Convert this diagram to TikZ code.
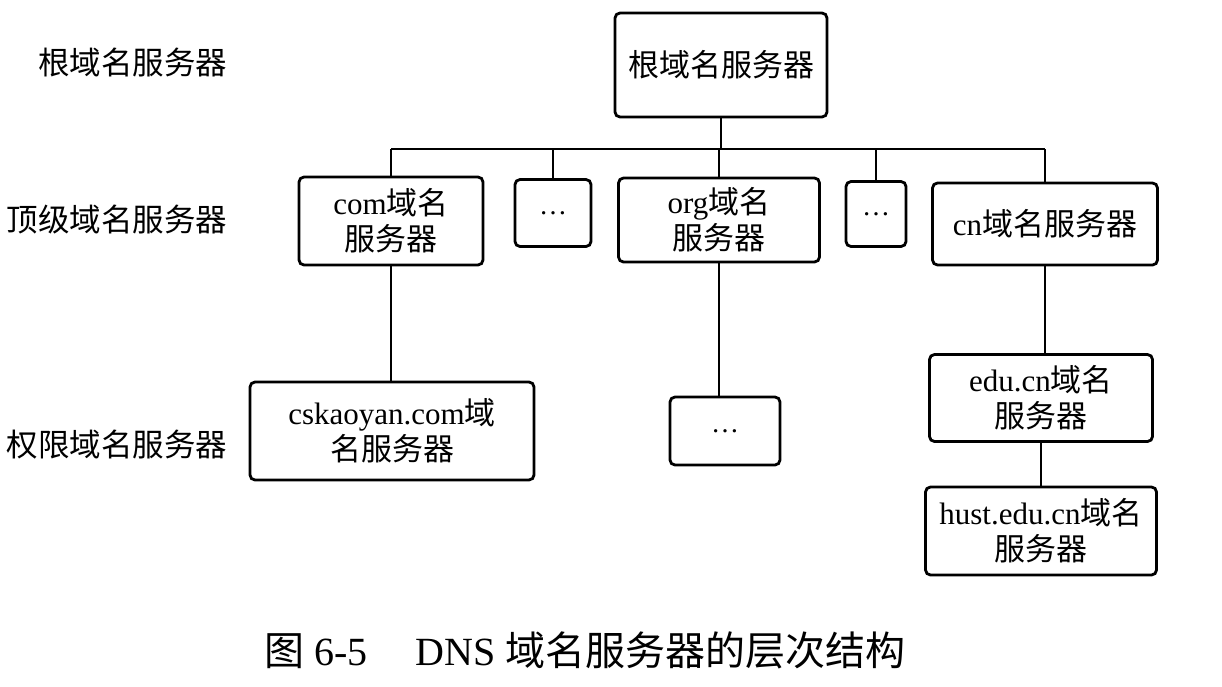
\documentclass[tikz,border=0pt]{standalone}
\usepackage{fontspec}
\setmainfont{Liberation Serif}
\newfontfamily\zhfont{Noto Sans CJK SC}
\newcommand{\zh}[1]{{\zhfont #1}}
\usetikzlibrary{positioning}
\tikzset{
  every picture/.style={line width=1.2pt},
  srv/.style={draw, rounded corners=5pt, line width=2.8pt, align=center, inner sep=2pt, font=\fontsize{31}{36}\selectfont},
  link/.style={line width=1.8pt},
  level/.style={anchor=east, font=\fontsize{31.5}{36}\selectfont},
}

\begin{document}
\begin{tikzpicture}[x=1pt, y=-1pt,
                    more/.style={srv, font=\fontsize{28}{30}\selectfont}]
  \fill[white] (0,0) rectangle (1222,686);
  \useasboundingbox (0,0) rectangle (1222,686);
  % levels on the left
  \node[level] (lroot) at (231,62) {\zh{根域名服务器}};
  \node[level] (ltop) at (231,220) {\zh{顶级域名服务器}};
  \node[level] (lauth) at (231,445) {\zh{权限域名服务器}};
  % root and top level
  \node[srv, minimum width=212, minimum height=104] (root) at (721,65) {\zh{根域名服务器}};
  \node[srv, minimum width=184, minimum height=88] (com) at (391,221) {com\zh{域名}\\\zh{服务器}};
  \node[more, minimum width=76, minimum height=67] (dotsa) at (553,213) {\textellipsis};
  \node[srv, minimum width=201, minimum height=84] (org) at (719,220) {org\zh{域名}\\\zh{服务器}};
  \node[more, minimum width=60, minimum height=65] (dotsb) at (876,214) {\textellipsis};
  \node[srv, minimum width=225, minimum height=82] (cn) at (1045,224) {cn\zh{域名服务器}};
  % lower levels
  \node[srv, minimum width=284, minimum height=98] (csk) at (392,431) {cskaoyan.com\zh{域}\\\zh{名服务器}};
  \node[more, minimum width=110, minimum height=68] (dotsc) at (725,431) {\textellipsis};
  \node[srv, minimum width=223, minimum height=87] (edu) at (1041,398) {edu.cn\zh{域名}\\\zh{服务器}};
  \node[srv, minimum width=231, minimum height=88] (hust) at (1041,531) {hust.edu.cn\zh{域名}\\\zh{服务器}};
  % links
  \coordinate (bus) at (0,149);
  \draw[link] (root.south) -- (root.south |- bus);
  \draw[link] (com.north |- bus) -- (cn.north |- bus);
  \foreach \c in {com, dotsa, org, dotsb, cn} \draw[link] (\c.north) -- (\c.north |- bus);
  \draw[link] (com.south) -- (com.south |- csk.north);
  \draw[link] (org.south) -- (org.south |- dotsc.north);
  \draw[link] (cn.south) -- (cn.south |- edu.north);
  \draw[link] (edu.south) -- (edu.south |- hust.north);
  % caption
  \node[font=\fontsize{40}{44}\selectfont] (cap) at (585,650) {\zh{图} 6-5\hspace{1.2em}DNS \zh{域名服务器的层次结构}};
\end{tikzpicture}
\end{document}
